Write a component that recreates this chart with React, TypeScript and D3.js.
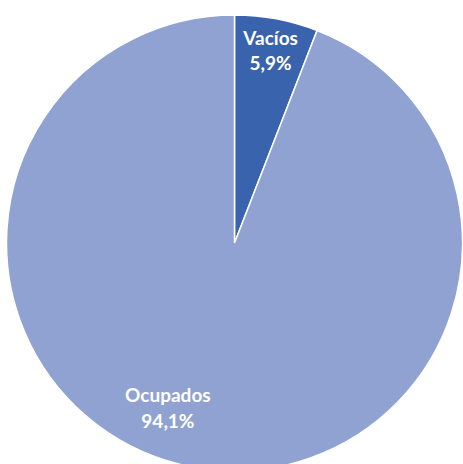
import React from "react";
import * as d3 from "d3";

const categories = ["Vacíos", "Ocupados"];
const values = [5.9, 94.1];
const valueLabels = ["5,9%", "94,1%"];
const colors = ["#3A63AD", "#8FA2D1"];

const W = 463;
const H = 464;
const cx = 234.5;
const cy = 243;
const R = 228;
// label placement (angle in radians from top, clockwise; radius fraction)
const labelPos = [
  { angle: null as number | null, r: 0.86 },
  { angle: (202 * Math.PI) / 180, r: 0.78 },
];

export default function App() {
  const pie = d3.pie<number>().sort(null).value((d) => d);
  const arcs = pie(values);
  const arc = d3.arc<d3.PieArcDatum<number>>().innerRadius(0).outerRadius(R);
  return (
    <svg
      width={W}
      height={H}
      style={{ position: "absolute", left: 0, top: 0, background: "#fff" }}
    >
      <g transform={`translate(${cx},${cy})`}>
        {arcs.map((a, i) => (
          <path key={i} d={arc(a) || ""} fill={colors[i]} stroke="#fff" strokeWidth={1.5} />
        ))}
        {arcs.map((a, i) => {
          const ang = labelPos[i].angle ?? (a.startAngle + a.endAngle) / 2;
          const rr = labelPos[i].r * R;
          const x = Math.sin(ang) * rr;
          const y = -Math.cos(ang) * rr;
          return (
            <text
              key={"t" + i}
              x={x}
              y={y}
              textAnchor="middle"
              fill="#fff"
              fontFamily="Lato, 'Open Sans', sans-serif"
              fontWeight="bold"
              fontSize={19}
            >
              <tspan x={x} dy="-0.3em">{categories[i]}</tspan>
              <tspan x={x} dy="1.35em">{valueLabels[i]}</tspan>
            </text>
          );
        })}
      </g>
    </svg>
  );
}
